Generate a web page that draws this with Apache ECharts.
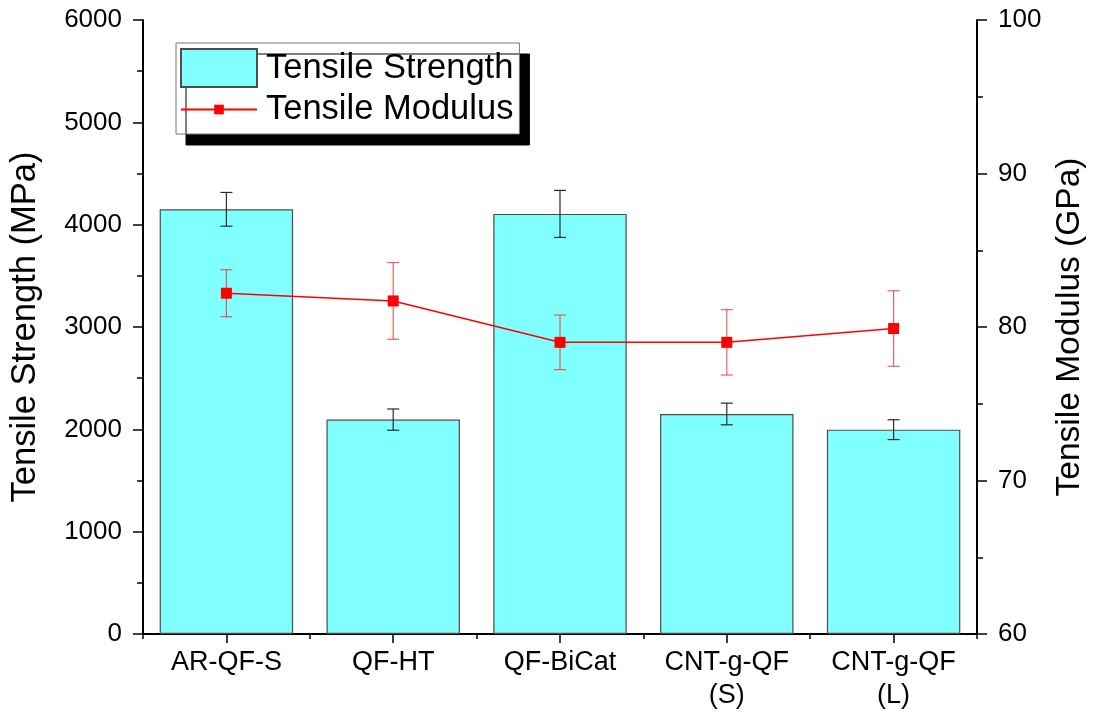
<!DOCTYPE html>
<html>
<head>
<meta charset="utf-8">
<title>Tensile Strength and Modulus</title>
<script src="https://cdn.jsdelivr.net/npm/echarts@6/dist/echarts.min.js"></script>
<style>
  html, body { margin: 0; padding: 0; background: #fff; }
  #chart { width: 1095px; height: 720px; }
</style>
</head>
<body>
<div id="chart"></div>
<script>
// Fibre samples
const categories = ['AR-QF-S', 'QF-HT', 'QF-BiCat', 'CNT-g-QF\n(S)', 'CNT-g-QF\n(L)'];

// Tensile strength (MPa) and its standard deviation
const strength    = [4150, 2095, 4105, 2150, 1997];
const strengthErr = [165, 104, 230, 106, 97];

// Tensile modulus (GPa) and its standard deviation
const modulus     = [82.2, 81.7, 79.0, 79.0, 79.9];
const modulusErr  = [1.53, 2.5, 1.78, 2.13, 2.46];

// Axis tick settings
const strengthAxis = { min: 0, max: 6000, interval: 1000 };
const modulusAxis  = { min: 60, max: 100, interval: 10 };

const FONT = "'Liberation Sans', Arial, sans-serif";

// Error bar drawn as a vertical whisker with caps
function errorBar(color, capHalf, width) {
  return function (params, api) {
    const i = api.value(0);
    const v = api.value(1);
    const e = api.value(2);
    const top = api.coord([i, v + e]);
    const bot = api.coord([i, v - e]);
    const style = { stroke: color, lineWidth: width };
    return {
      type: 'group',
      children: [
        { type: 'line', shape: { x1: top[0], y1: top[1], x2: bot[0], y2: bot[1] }, style },
        { type: 'line', shape: { x1: top[0] - capHalf, y1: top[1], x2: top[0] + capHalf, y2: top[1] }, style },
        { type: 'line', shape: { x1: bot[0] - capHalf, y1: bot[1], x2: bot[0] + capHalf, y2: bot[1] }, style }
      ]
    };
  };
}

const strengthErrData = strength.map((v, i) => [i, v, strengthErr[i]]);
const modulusErrData  = modulus.map((v, i) => [i, v, modulusErr[i]]);

const chart = echarts.init(document.getElementById('chart'), null, { renderer: 'canvas' });

const axisLabelBase = { color: '#000', fontFamily: FONT, fontSize: 26, formatter: (v) => String(v) };

chart.setOption({
  animation: false,
  backgroundColor: '#fff',
  textStyle: { fontFamily: FONT },
  grid: { left: 142, right: 116, top: 20, bottom: 86, containLabel: false },
  legend: [
    {
      data: [{ name: 'Tensile Strength', icon: 'rect' }],
      left: 176,
      top: 43,
      orient: 'vertical',
      padding: [5, 6, 46, 4],
      itemWidth: 76,
      itemHeight: 38,
      backgroundColor: '#fff',
      borderColor: '#777',
      borderWidth: 1,
      shadowColor: '#000',
      shadowBlur: 0,
      shadowOffsetX: 10,
      shadowOffsetY: 11,
      textStyle: { color: '#000', fontFamily: FONT, fontSize: 34.5, padding: [0, 0, 0, 4] },
      selectedMode: false
    },
    {
      data: ['Tensile Modulus'],
      left: 180,
      top: 92,
      padding: 0,
      itemWidth: 76,
      itemHeight: 12,
      z: 10,
      textStyle: { color: '#000', fontFamily: FONT, fontSize: 34.5, padding: [0, 0, 0, 4] },
      selectedMode: false
    }
  ],
  xAxis: [
    {
      type: 'category',
      data: categories,
      position: 'bottom',
      axisLine: { show: true, lineStyle: { color: '#000', width: 2 } },
      axisTick: { show: true, alignWithLabel: true, length: 9, lineStyle: { color: '#000', width: 1.5 } },
      axisLabel: { color: '#000', fontFamily: FONT, fontSize: 27, lineHeight: 33, margin: 12 },
      splitLine: { show: false }
    },
    {
      // boundary ticks between the categories
      type: 'category',
      data: categories,
      position: 'bottom',
      axisLine: { show: false },
      axisTick: { show: true, length: 5, lineStyle: { color: '#000', width: 1.5 } },
      axisLabel: { show: false },
      splitLine: { show: false }
    }
  ],
  yAxis: [
    {
      type: 'value',
      position: 'left',
      min: strengthAxis.min,
      max: strengthAxis.max,
      interval: strengthAxis.interval,
      name: 'Tensile Strength (MPa)',
      nameLocation: 'middle',
      nameGap: 100,
      nameTextStyle: { color: '#000', fontFamily: FONT, fontSize: 34.5 },
      axisLine: { show: true, lineStyle: { color: '#000', width: 2 } },
      axisTick: { show: true, length: 10, lineStyle: { color: '#000', width: 1.5 } },
      minorTick: { show: true, splitNumber: 2, length: 6, lineStyle: { color: '#000', width: 1.5 } },
      axisLabel: { ...axisLabelBase, margin: 21 },
      splitLine: { show: false }
    },
    {
      type: 'value',
      position: 'right',
      min: modulusAxis.min,
      max: modulusAxis.max,
      interval: modulusAxis.interval,
      name: 'Tensile Modulus (GPa)',
      nameLocation: 'middle',
      nameGap: 76,
      nameTextStyle: { color: '#000', fontFamily: FONT, fontSize: 33.5 },
      axisLine: { show: true, lineStyle: { color: '#000', width: 2 } },
      axisTick: { show: true, length: 10, lineStyle: { color: '#000', width: 1.5 } },
      minorTick: { show: true, splitNumber: 2, length: 6, lineStyle: { color: '#000', width: 1.5 } },
      axisLabel: { ...axisLabelBase, margin: 21 },
      splitLine: { show: false }
    }
  ],
  series: [
    {
      name: 'Tensile Strength',
      type: 'bar',
      xAxisIndex: 0,
      yAxisIndex: 0,
      data: strength,
      barWidth: '80%',
      itemStyle: { color: '#80FFFF', borderColor: '#4d4d4d', borderWidth: 1.2 },
      z: 2
    },
    {
      name: 'strength-error',
      type: 'custom',
      xAxisIndex: 0,
      yAxisIndex: 0,
      data: strengthErrData,
      encode: { x: 0, y: 1 },
      renderItem: errorBar('#2b2b2b', 6, 1.2),
      z: 3,
      silent: true
    },
    {
      name: 'modulus-error',
      type: 'custom',
      xAxisIndex: 0,
      yAxisIndex: 1,
      data: modulusErrData,
      encode: { x: 0, y: 1 },
      renderItem: errorBar('rgba(240,40,40,0.75)', 6, 1.2),
      z: 4,
      silent: true
    },
    {
      name: 'Tensile Modulus',
      type: 'line',
      xAxisIndex: 0,
      yAxisIndex: 1,
      data: modulus,
      symbol: 'rect',
      symbolSize: 11,
      itemStyle: { color: '#ff0000' },
      lineStyle: { color: '#ff0000', width: 1.5 },
      z: 5
    }
  ]
});
</script>
</body>
</html>
